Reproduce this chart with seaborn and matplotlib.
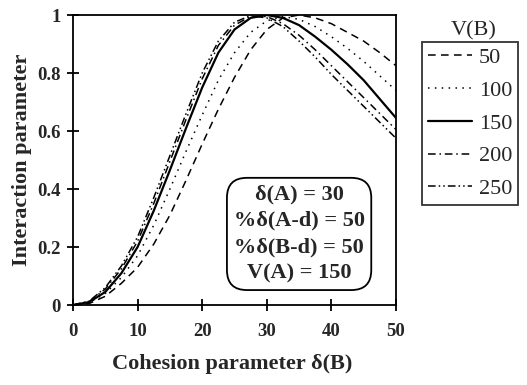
import numpy as np
import pandas as pd
import matplotlib
matplotlib.use("Agg")
import matplotlib.pyplot as plt
import seaborn as sns

# ---- data ----
delta_b = [0, 2.5, 5, 7.5, 10, 12.5, 15, 17.5, 20, 22.5, 25,
           27.5, 30, 32.5, 35, 37.5, 40, 42.5, 45, 47.5, 50]
v_b_values = [50, 100, 150, 200, 250]
y_50 = [0, 0.005, 0.03, 0.075, 0.13, 0.21, 0.31, 0.43, 0.555, 0.675, 0.785,
        0.88, 0.95, 0.99, 1.00, 0.99, 0.97, 0.94, 0.91, 0.87, 0.825]
y_100 = [0, 0.008, 0.04, 0.095, 0.17, 0.275, 0.40, 0.53, 0.655, 0.775, 0.87,
         0.94, 0.98, 0.995, 0.985, 0.96, 0.925, 0.885, 0.84, 0.79, 0.74]
y_150 = [0, 0.01, 0.045, 0.11, 0.20, 0.325, 0.465, 0.61, 0.75, 0.87, 0.95,
         0.99, 1.00, 0.99, 0.965, 0.925, 0.88, 0.83, 0.775, 0.71, 0.645]
y_200 = [0, 0.012, 0.055, 0.125, 0.22, 0.35, 0.495, 0.64, 0.78, 0.895, 0.965,
         0.995, 0.995, 0.97, 0.93, 0.88, 0.825, 0.77, 0.715, 0.66, 0.605]
y_250 = [0, 0.013, 0.06, 0.135, 0.235, 0.37, 0.515, 0.66, 0.80, 0.91, 0.975,
         0.998, 0.99, 0.96, 0.91, 0.855, 0.795, 0.74, 0.685, 0.63, 0.575]
x_ticks = [0, 10, 20, 30, 40, 50]
y_ticks = [0, 0.2, 0.4, 0.6, 0.8, 1]
box_lines = ["\u03b4(A) = 30", "%\u03b4(A-d) = 50", "%\u03b4(B-d) = 50", "V(A) = 150"]

series = {50: y_50, 100: y_100, 150: y_150, 200: y_200, 250: y_250}
df = pd.concat([pd.DataFrame({"delta": delta_b, "value": v, "V": str(k)})
                for k, v in series.items()], ignore_index=True)

sns.set_theme(style="ticks")
plt.rcParams["font.family"] = ["Liberation Serif", "DejaVu Serif"]

fig = plt.figure(figsize=(5.27, 3.85), dpi=100)
ax = fig.add_axes([73 / 527, 1 - 305 / 385, (396 - 73) / 527, (305 - 15) / 385])

order = [str(k) for k in v_b_values]
dashes = {"50": (5, 3.5), "100": (1, 3.5), "150": "", "200": (5, 2.5, 1, 2.5),
          "250": (5, 2, 1, 2, 1, 2)}
sns.lineplot(data=df, x="delta", y="value", hue="V", style="V",
             hue_order=order, style_order=order,
             palette=["black"] * 5, dashes=dashes, legend=False, ax=ax,
             linewidth=1.1)
for ln, lab in zip(ax.lines, order):
    if lab == "150":
        ln.set_linewidth(1.6)

ax.set_xlim(0, 50)
ax.set_ylim(0, 1)
ax.set_xticks(x_ticks)
ax.set_yticks(y_ticks)
ax.set_xticklabels([f"{t:g}" for t in x_ticks], fontweight="bold", fontsize=13.5)
ax.set_yticklabels([f"{t:g}" for t in y_ticks], fontweight="bold", fontsize=13.5)
ax.tick_params(direction="inout", length=8, width=1.3, color="black")
ax.tick_params(axis="x", pad=9)
ax.tick_params(axis="y", pad=5)
for s in ax.spines.values():
    s.set_linewidth(1.3)
    s.set_color("black")
ax.set_xlabel("")
ax.set_ylabel("")

fig.text(232 / 527, 1 - 364 / 385, "Cohesion parameter \u03b4(B)", ha="center",
         va="center", fontsize=16, fontweight="bold")
fig.text(22 / 527, 1 - 160 / 385, "Interaction parameter", ha="center", va="center",
         rotation=90, fontsize=16, fontweight="bold")

ax.text(35.0, 0.245, "\n".join(box_lines), ha="center", va="center",
        fontsize=16, fontweight="bold", linespacing=1.42,
        bbox=dict(boxstyle="round,pad=0.3,rounding_size=0.9", fc="white",
                  ec="black", lw=1.3))

leg = fig.legend(handles=ax.lines, labels=order, loc="upper left",
                 bbox_to_anchor=(422 / 527, 1 - 42 / 385), frameon=True,
                 fontsize=16, handlelength=2.0, handletextpad=0.3,
                 labelspacing=0.55, borderpad=0.25, borderaxespad=0,
                 fancybox=False)
leg.get_frame().set_edgecolor("black")
leg.get_frame().set_linewidth(1.3)
fig.text(474 / 527, 1 - 30.5 / 385, "V(B)", ha="center", va="center", fontsize=16)

fig.savefig("out.png", dpi=100)
